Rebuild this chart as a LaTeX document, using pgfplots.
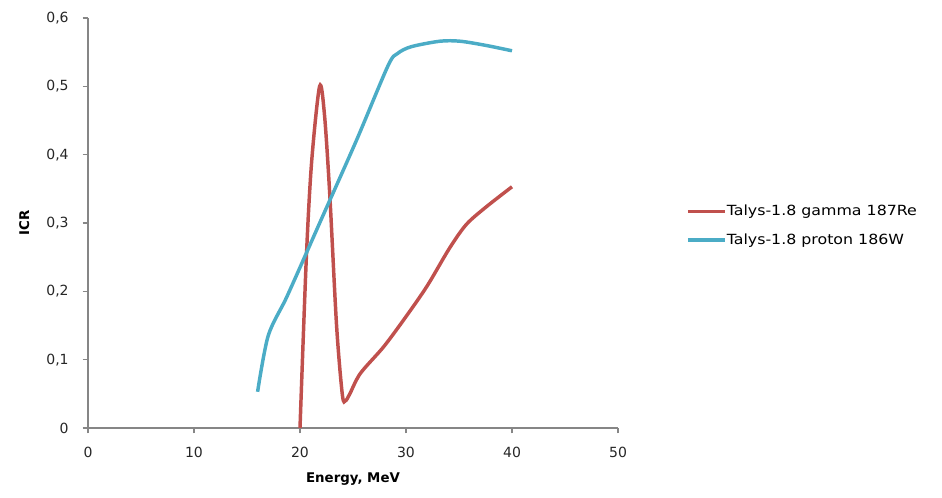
\documentclass[border=0pt]{standalone}
\usepackage{pgfplots}
\pgfplotsset{compat=1.18}
\usepackage{fontspec}
\setmainfont{DejaVu Sans}
\newfontfamily\legfont[FakeStretch=1.13]{DejaVu Sans}
\definecolor{redline}{HTML}{C0504D}
\definecolor{blueline}{HTML}{4BACC6}
\definecolor{axgray}{HTML}{868686}
\begin{document}
\begin{tikzpicture}
\useasboundingbox (-66pt,-52.5pt) rectangle (640.5pt,321pt);
\begin{axis}[
  at={(0,0)}, anchor=south west,
  scale only axis, width=397.5pt, height=307.5pt,
  xmin=0, xmax=50, ymin=0, ymax=0.6,
  axis lines=left, axis line style={-, draw=axgray, line width=0.8pt},
  xtick={0,10,...,50}, ytick={0,0.1,...,0.6},
  tick align=outside, major tick length=4pt,
  tick style={draw=axgray, line width=0.8pt},
  /pgf/number format/assume math mode=true,
  /pgf/number format/use comma,
  yticklabel style={/pgf/number format/fixed, /pgf/number format/precision=1, font=\fontsize{10.5}{12}\selectfont, text=black!85, xshift=-7pt},
  xticklabel style={font=\fontsize{10.5}{12}\selectfont, text=black!85, yshift=-7pt},
  xlabel={\textbf{Energy, MeV}}, ylabel={\textbf{ICR}},
  xlabel style={font=\fontsize{10}{12}\selectfont, yshift=-4pt},
  ylabel style={font=\fontsize{10}{12}\selectfont, yshift=6pt},
  legend style={at={(1.128,0.493)}, anchor=west, draw=none, fill=none,
    font=\legfont\fontsize{10.5}{12}\selectfont, inner sep=0pt,
    row sep=8pt, cells={anchor=west}},
  legend image code/.code={\draw[#1, line width=2.6pt] (0,0) -- (0.98cm,0);},
  legend cell align=left,
  clip=false,
]
\addplot[redline, line width=2.6pt, smooth, tension=0.5] coordinates {
  (20,0) (20.6,0.25) (21.1,0.39) (21.85,0.5) (22.3,0.46) (22.8,0.344) (23.45,0.15) (24.0,0.048) (24.3,0.04) (24.7,0.05) (25.7,0.08) (27.9,0.119) (30,0.163) (32,0.208) (34.1,0.263) (35.7,0.298) (37.6,0.324) (40,0.353)
};
\addlegendentry{\hspace{-2pt}Talys-1.8 gamma 187Re}
\addplot[blueline, line width=2.6pt, smooth, tension=0.5] coordinates {
  (16,0.053) (17,0.135) (18.7,0.19) (20.6,0.256) (22,0.305) (25.3,0.42) (28.3,0.53) (29.2,0.548) (30.5,0.558) (33.2,0.566) (35.1,0.566) (37.5,0.56) (40,0.552)
};
\addlegendentry{\hspace{-2pt}Talys-1.8 proton 186W}
\end{axis}
\end{tikzpicture}
\end{document}
